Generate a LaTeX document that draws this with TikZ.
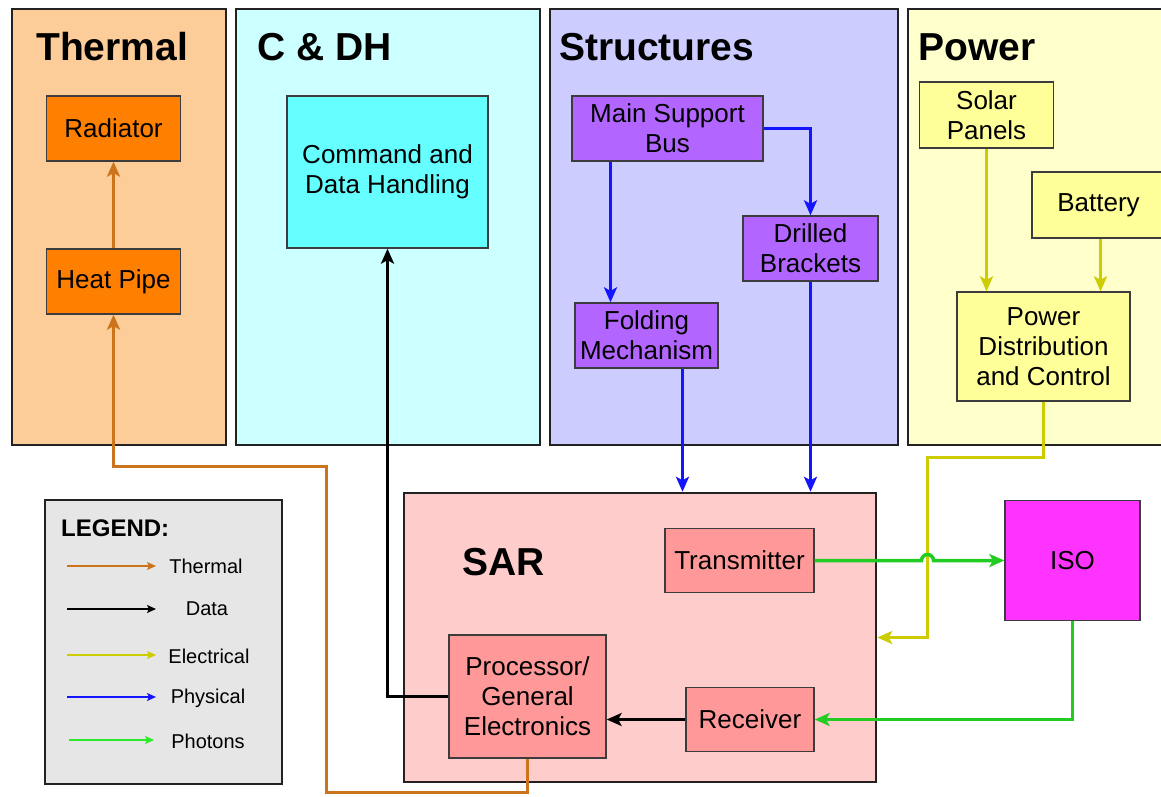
\documentclass[tikz,border=0pt]{standalone}
\usepackage{fontspec}
\setmainfont{Liberation Sans}
\usetikzlibrary{arrows.meta}
\definecolor{thermC}{RGB}{204,116,28}
\definecolor{elecC}{RGB}{204,204,0}
\definecolor{physC}{RGB}{20,20,255}
\definecolor{photC}{RGB}{34,204,34}
\definecolor{photL}{RGB}{40,235,40}
\definecolor{panelLine}{RGB}{34,34,34}
\definecolor{boxLine}{RGB}{60,60,60}
\definecolor{thermP}{RGB}{252,204,153}
\definecolor{thermB}{RGB}{255,128,0}
\definecolor{cdhP}{RGB}{204,255,255}
\definecolor{cdhB}{RGB}{102,255,255}
\definecolor{strP}{RGB}{204,204,255}
\definecolor{strB}{RGB}{178,102,255}
\definecolor{powP}{RGB}{255,255,204}
\definecolor{powB}{RGB}{255,255,153}
\definecolor{sarP}{RGB}{255,204,204}
\definecolor{sarB}{RGB}{255,153,153}
\definecolor{isoB}{RGB}{255,51,255}
\definecolor{legP}{RGB}{230,230,230}
\begin{document}
\begin{tikzpicture}[x=1pt,y=-1pt,
  panel/.style={draw=panelLine, line width=2.4pt, inner sep=0pt},
  box/.style={draw=boxLine, line width=1.3pt, align=center, inner sep=2pt,
    font={\fontsize{26}{30}\selectfont}},
  ptitle/.style={anchor=west, inner sep=0pt, font={\fontsize{39}{44}\selectfont\bfseries}},
  legtext/.style={inner sep=0pt, font={\fontsize{20}{24}\selectfont}},
  conn/.style={line width=3.5pt, -{Stealth[length=15pt,width=13pt,inset=3.5pt]}},
  legarrow/.style={line width=1.6pt, -{Stealth[length=9pt,width=8pt,inset=2pt]}},
  thermline/.style={conn, draw=thermC, color=thermC},
  dataline/.style={conn, draw=black, color=black},
  elecline/.style={conn, draw=elecC, color=elecC},
  physline/.style={conn, draw=physC, color=physC},
  photline/.style={conn, draw=photC, color=photC}
]
\useasboundingbox (0,0) rectangle (1161,796);
\fill[white] (0,0) rectangle (1161,796);

% panels
\node[panel, fill=thermP, minimum width=214pt, minimum height=436pt] (pThermal) at (119,227) {};
\node[panel, fill=cdhP, minimum width=304pt, minimum height=436pt] (pCDH) at (388,227) {};
\node[panel, fill=strP, minimum width=348pt, minimum height=436pt] (pStruct) at (724,227) {};
\node[panel, fill=powP, minimum width=262pt, minimum height=436pt] (pPower) at (1039,227) {};
\node[panel, fill=sarP, minimum width=472pt, minimum height=289pt] (sar) at (640,637.5) {};
\node[panel, fill=legP, minimum width=237pt, minimum height=284pt] (leg) at (163.5,642) {};

% titles
\node[ptitle] (tThermal) at (36,47) {Thermal};
\node[ptitle] (tCDH) at (257,47) {C \& DH};
\node[ptitle] (tStruct) at (559,47) {Structures};
\node[ptitle] (tPower) at (918,47) {Power};
\node[ptitle] (tSAR) at (462,562) {SAR};

% boxes
\node[box, fill=thermB, minimum width=134pt, minimum height=65pt] (rad) at (113.5,128.5) {Radiator};
\node[box, fill=thermB, minimum width=134pt, minimum height=65pt] (hp) at (113.5,281.5) {Heat Pipe};
\node[box, fill=cdhB, minimum width=201pt, minimum height=152pt] (cdh) at (387.5,172) {Command and\\Data Handling};
\node[box, fill=strB, minimum width=191pt, minimum height=65pt] (msb) at (667.5,128.5) {Main Support\\Bus};
\node[box, fill=strB, minimum width=135pt, minimum height=65pt] (drill) at (810.5,248.5) {Drilled\\Brackets};
\node[box, fill=strB, minimum width=143pt, minimum height=65pt] (fold) at (646.5,335.5) {Folding\\Mechanism};
\node[box, fill=powB, minimum width=134pt, minimum height=66pt] (solar) at (986.5,115) {Solar\\Panels};
\node[box, fill=powB, minimum width=133pt, minimum height=66pt] (bat) at (1098.5,205) {Battery};
\node[box, fill=powB, minimum width=173pt, minimum height=109pt] (pdc) at (1043.5,346.5) {Power\\Distribution\\and Control};
\node[box, fill=sarB, minimum width=149pt, minimum height=64pt] (tx) at (739.5,560.5) {Transmitter};
\node[box, fill=sarB, minimum width=157pt, minimum height=123pt] (proc) at (527.5,696.5) {Processor/\\General\\Electronics};
\node[box, fill=sarB, minimum width=128pt, minimum height=64pt] (rec) at (750,719.5) {Receiver};
\node[box, fill=isoB, minimum width=135pt, minimum height=120pt] (iso) at (1072.5,560.5) {ISO};

% connectors
\draw[thermline] (hp) -- (rad);
\draw[thermline] (proc.south) |- (326.5,792.5) |- (113.5,466.5) -- (hp.south);
\draw[dataline] (proc.west) -| (cdh.south);
\draw[dataline] (rec.west) -- (rec.west -| proc.east);
\draw[physline] ([xshift=-57pt]msb.south) coordinate (m1) -- (m1 |- fold.north);
\draw[physline] (msb.east) -| (drill.north);
\draw[physline] ([xshift=36pt]fold.south) coordinate (f1) -- (f1 |- sar.north);
\draw[physline] (drill.south) -- (drill.south |- sar.north);
\draw[elecline] (solar.south) -- (solar.south |- pdc.north);
\draw[elecline] ([xshift=2pt]bat.south) coordinate (b1) -- (b1 |- pdc.north);
\draw[elecline] (pdc.south) |- (927.5,457.5) |- (sar.east);
\draw[photline] (tx.east) -- (921.5,560.5) arc[start angle=180, end angle=0, radius=6pt] -- (iso.west);
\draw[photline] (iso.south) |- (rec.east);

% legend
\node[anchor=west, inner sep=0pt, font={\fontsize{24}{28}\selectfont\bfseries}] (legT) at (61,528) {LEGEND:};
\coordinate (la1) at (67,566);   \coordinate (lb1) at (156,566);
\coordinate (la2) at (67,609);   \coordinate (lb2) at (156,609);
\coordinate (la3) at (67,655);   \coordinate (lb3) at (156,655);
\coordinate (la4) at (67,697);   \coordinate (lb4) at (156,697);
\coordinate (la5) at (69,740);   \coordinate (lb5) at (154,740);
\draw[legarrow, draw=thermC, color=thermC] (la1) -- (lb1);
\draw[legarrow, draw=black, color=black] (la2) -- (lb2);
\draw[legarrow, draw=elecC, color=elecC] (la3) -- (lb3);
\draw[legarrow, draw=physC, color=physC] (la4) -- (lb4);
\draw[legarrow, draw=photL, color=photL] (la5) -- (lb5);
\node[legtext] (l1) at (206,566) {Thermal};
\node[legtext] (l2) at (207,609) {Data};
\node[legtext] (l3) at (209,656) {Electrical};
\node[legtext] (l4) at (208,698) {Physical};
\node[legtext] (l5) at (208,741) {Photons};
\end{tikzpicture}
\end{document}
